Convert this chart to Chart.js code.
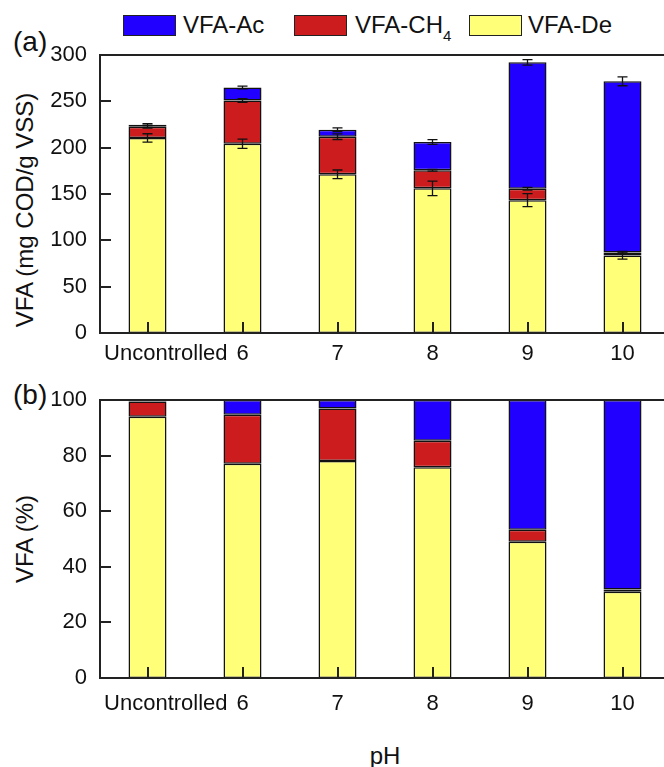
<!DOCTYPE html>
<html>
<head>
<meta charset="utf-8">
<script src="https://cdn.jsdelivr.net/npm/chart.js@4.4.1/dist/chart.umd.min.js"></script>
<style>
  html, body { margin: 0; padding: 0; background: #fff; width: 664px; height: 767px; overflow: hidden; }
  body { position: relative; font-family: "Liberation Sans", Arial, sans-serif; color: #111; }
  .panel { position: absolute; left: 0; width: 680px; height: 370px; }
  .lbl { position: absolute; white-space: nowrap; line-height: 1; }
  .box { position: absolute; top: 15px; width: 53px; height: 21px; box-sizing: border-box; border: 1.5px solid #222; }
  .ytitle { position: absolute; white-space: nowrap; line-height: 1; font-size: 24px; transform: translate(-50%, -50%) rotate(-90deg); }
</style>
</head>
<body>

<div class="box" style="left:123px; background:#2200FF"></div>
<div class="lbl" style="left:183px; top:13px; font-size:24px">VFA-Ac</div>
<div class="box" style="left:294px; background:#CC1C1E"></div>
<div class="lbl" style="left:355px; top:13px; font-size:24px">VFA-CH<span style="font-size:15px; position:relative; top:8px">4</span></div>
<div class="box" style="left:469px; background:#FFFF78"></div>
<div class="lbl" style="left:528px; top:13px; font-size:24px">VFA-De</div>

<div class="lbl" style="left:13px; top:28px; font-size:28px">(a)</div>
<div class="lbl" style="left:13px; top:381px; font-size:28px">(b)</div>
<div class="ytitle" style="left:25px; top:210px">VFA (mg COD/g VSS)</div>
<div class="ytitle" style="left:25px; top:539px">VFA (%)</div>
<div class="lbl" style="left:385px; top:744px; font-size:24px; transform:translateX(-50%)">pH</div>

<div class="panel" style="top:0"><canvas id="chartA"></canvas></div>
<div class="panel" style="top:345px"><canvas id="chartB"></canvas></div>

<script>
const categories = ['Uncontrolled', '6', '7', '8', '9', '10'];

// (a) VFA in mg COD/g VSS
const vfaDe = [210.5, 204.3, 171.2, 156.1, 143.3, 83.6];
const vfaCH4 = [12.1, 46.7, 40.6, 19.5, 12.4, 3.4];
const vfaAc = [2.2, 14, 7.6, 30.5, 136.4, 184.6];
const errDe = [4.5, 5, 4.7, 7.9, 7, 3.8];
const errCH4 = [1.5, 2, 3, 1, 1.5, 1];
const errAc = [1, 1.5, 2, 2.5, 3, 4.8];

// (b) VFA in %
const pctDe = [94, 77.1, 78.1, 75.8, 49, 31];
const pctCH4 = [5.5, 17.6, 18.8, 9.5, 4.3, 0.8];
const pctAc = [0.5, 5.3, 3.1, 14.7, 46.7, 68.2];

const ticksA = [0, 50, 100, 150, 200, 250, 300];
const ticksB = [0, 20, 40, 60, 80, 100];

const colors = { de: '#FFFF78', ch4: '#CC1C1E', ac: '#2200FF' };
const fontFamily = '"Liberation Sans", Arial, sans-serif';

// frame, inward ticks and error bars
const framePlugin = {
  id: 'frame',
  afterDatasetsDraw(chart, args, opts) {
    const ctx = chart.ctx;
    const a = chart.chartArea;
    const x = chart.scales.x, y = chart.scales.y;
    ctx.save();
    ctx.strokeStyle = '#111';

    if (opts.errors) {
      ctx.lineWidth = 1.3;
      opts.errors.forEach((errs, d) => {
        const meta = chart.getDatasetMeta(d);
        errs.forEach((e, i) => {
          let cum = 0;
          for (let k = 0; k <= d; k++) cum += chart.data.datasets[k].data[i];
          const px = meta.data[i].x;
          const y1 = y.getPixelForValue(cum + e);
          const y2 = y.getPixelForValue(cum - e);
          ctx.beginPath();
          ctx.moveTo(px, y1); ctx.lineTo(px, y2);
          ctx.moveTo(px - 5, y1); ctx.lineTo(px + 5, y1);
          ctx.moveTo(px - 5, y2); ctx.lineTo(px + 5, y2);
          ctx.stroke();
        });
      });
    }

    ctx.lineWidth = 2;
    ctx.strokeStyle = '#222';
    ctx.beginPath();
    y.ticks.forEach((t, i) => {
      const py = Math.round(y.getPixelForTick(i));
      ctx.moveTo(a.left, py); ctx.lineTo(a.left + 11, py);
    });
    x.ticks.forEach((t, i) => {
      const px = Math.round(x.getPixelForTick(i));
      ctx.moveTo(px, a.bottom); ctx.lineTo(px, a.bottom - 11);
    });
    ctx.stroke();
    ctx.strokeRect(a.left, a.top, a.right - a.left, a.bottom - a.top);
    ctx.restore();
  }
};

function makeChart(canvasId, series, yMax, yTicks, labelPad, errors) {
  return new Chart(document.getElementById(canvasId), {
    type: 'bar',
    data: {
      labels: categories,
      datasets: [
        { label: 'VFA-De', data: series[0], backgroundColor: colors.de },
        { label: 'VFA-CH4', data: series[1], backgroundColor: colors.ch4 },
        { label: 'VFA-Ac', data: series[2], backgroundColor: colors.ac }
      ].map(ds => Object.assign(ds, {
        borderColor: '#111', borderWidth: 1.5, borderSkipped: false,
        barPercentage: 0.4, categoryPercentage: 1.0
      }))
    },
    options: {
      responsive: false,
      animation: false,
      devicePixelRatio: 1,
      layout: { padding: { top: 55, right: 10, left: 0, bottom: 0 } },
      plugins: {
        legend: { display: false },
        tooltip: { enabled: false },
        frame: { errors: errors }
      },
      scales: {
        x: {
          stacked: true,
          offset: true,
          grid: { display: false, drawTicks: false },
          border: { display: false },
          ticks: {
            color: '#111',
            font: { family: fontFamily, size: 22 },
            padding: labelPad,
            autoSkip: false, maxRotation: 0, minRotation: 0,
            callback: (v, i) => i === 0 ? '      ' + categories[0] : categories[i]
          },
          afterFit: s => { s.height = 37; }
        },
        y: {
          stacked: true,
          min: 0, max: yMax,
          grid: { display: false, drawTicks: false },
          border: { display: false },
          ticks: { color: '#111', font: { family: fontFamily, size: 22 }, padding: 13 },
          afterBuildTicks: s => { s.ticks = yTicks.map(v => ({ value: v })); },
          afterFit: s => { s.width = 100; }
        }
      }
    },
    plugins: [framePlugin]
  });
}

function setSize(id) {
  const c = document.getElementById(id);
  c.width = 680; c.height = 370;
  c.style.width = '680px'; c.style.height = '370px';
}
setSize('chartA');
setSize('chartB');

makeChart('chartA', [vfaDe, vfaCH4, vfaAc], 300, ticksA, 8, [errDe, errCH4, errAc]);
makeChart('chartB', [pctDe, pctCH4, pctAc], 100, ticksB, 13, null);
</script>
</body>
</html>
